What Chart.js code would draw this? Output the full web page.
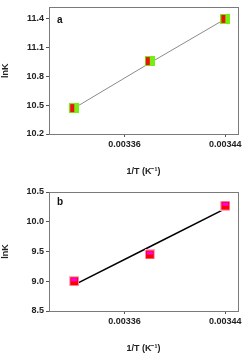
<!DOCTYPE html>
<html><head><meta charset="utf-8">
<script src="https://cdn.jsdelivr.net/npm/chart.js@4/dist/chart.umd.min.js"></script>
<style>
html,body{margin:0;padding:0;background:#fff;}
.box{position:relative;width:244px;height:177px;}
</style></head>
<body>
<div class="box"><canvas id="ca" width="244" height="177"></canvas></div>
<div class="box"><canvas id="cb" width="244" height="177"></canvas></div>
<script>
// x values (1/T, K^-1)
const invT = [0.00332, 0.00338, 0.00344];
const xTicks = [0.00336, 0.00344];
// panel a
const lnKa = [10.47, 10.96, 11.40];
const fitA = [10.47, 10.94, 11.40];
const yTicksA = [10.2, 10.5, 10.8, 11.1, 11.4];
// panel b
const lnKb = [9.00, 9.45, 10.27];
const fitB = [8.94, 9.58, 10.22];
const yTicksB = [8.5, 9.0, 9.5, 10.0, 10.5];

function markerA(){
  const c=document.createElement('canvas');c.width=10;c.height=10;
  const g=c.getContext('2d');
  g.fillStyle='#77ee11';g.fillRect(0,0,10,10);
  g.fillStyle='#ee1111';g.fillRect(1,1,4,8);
  return c;
}
function markerB(){
  const c=document.createElement('canvas');c.width=10;c.height=10;
  const g=c.getContext('2d');
  g.fillStyle='#ffaacc';g.fillRect(0,0,10,10);
  g.fillStyle='#ff0000';g.fillRect(1,1,8,8);
  g.fillStyle='#ff00ee';g.fillRect(2,2,6,3);
  return c;
}

const frame = {
  id:'frame',
  afterDraw(chart, args, opts){
    const a=chart.chartArea, ctx=chart.ctx;
    ctx.save();
    ctx.strokeStyle='#7a7a7a';ctx.lineWidth=1;
    ctx.strokeRect(Math.round(a.left)+0.5, Math.round(a.top)+0.5, Math.round(a.right-a.left), Math.round(a.bottom-a.top));
    ctx.fillStyle='#111';ctx.font='bold 10px "Liberation Sans", Arial, sans-serif';
    ctx.textBaseline='middle';ctx.textAlign='left';
    ctx.fillText(opts.label, a.left+8, a.top+opts.dy);
    ctx.restore();
  }
};

function make(id, label, y, fit, yt, ymin, ymax, marker, lineColor, lineW, padTop, dy, tpad){
  const font={family:'"Liberation Sans", Arial, sans-serif', size:9, weight:'bold'};
  return new Chart(document.getElementById(id),{
    type:'scatter',
    data:{datasets:[
      {data:invT.map((x,i)=>({x, y:fit[i]})), showLine:true, borderColor:lineColor, borderWidth:lineW, pointRadius:0, order:2},
      {data:invT.map((x,i)=>({x, y:y[i]})), pointStyle:marker, pointRadius:5, showLine:false, order:1}
    ]},
    options:{
      responsive:false, animation:false,
      layout:{padding:{left:0,right:6,top:padTop,bottom:0}},
      plugins:{legend:{display:false}, tooltip:{enabled:false}, frame:{label, dy}},
      scales:{
        x:{type:'linear', min:0.0033, max:0.00345,
          afterBuildTicks:s=>{s.ticks=xTicks.map(v=>({value:v}));},
          afterFit:s=>{s.height=43;},
          grid:{drawOnChartArea:false, tickLength:3, color:'#555', tickColor:'#555'},
          border:{color:'#7a7a7a'},
          ticks:{font, color:'#222', padding:2, maxRotation:0, callback:v=>v.toFixed(5)},
          title:{display:true, text:'1/T (K⁻¹)', font:{family:'"Liberation Sans", Arial, sans-serif', size:9, weight:'bold'}, color:'#222', padding:{top:tpad,bottom:0}}
        },
        y:{type:'linear', min:ymin, max:ymax,
          afterBuildTicks:s=>{s.ticks=yt.map(v=>({value:v}));},
          afterFit:s=>{s.width=49;},
          grid:{drawOnChartArea:false, tickLength:3, color:'#555', tickColor:'#555'},
          border:{color:'#7a7a7a'},
          ticks:{font, color:'#222', padding:2, callback:v=>v.toFixed(1)},
          title:{display:true, text:'lnK', font:{family:'"Liberation Sans", Arial, sans-serif', size:9, weight:'bold'}, color:'#222', padding:{top:0,bottom:10}}
        }
      }
    },
    plugins:[frame]
  });
}
make('ca','a',lnKa,fitA,yTicksA,10.2,11.52,markerA(),'#8a8a8a',1,1,13,9);
make('cb','b',lnKb,fitB,yTicksB,8.5,10.5,markerB(),'#000000',1.5,15,10,12);
</script>
</body></html>
